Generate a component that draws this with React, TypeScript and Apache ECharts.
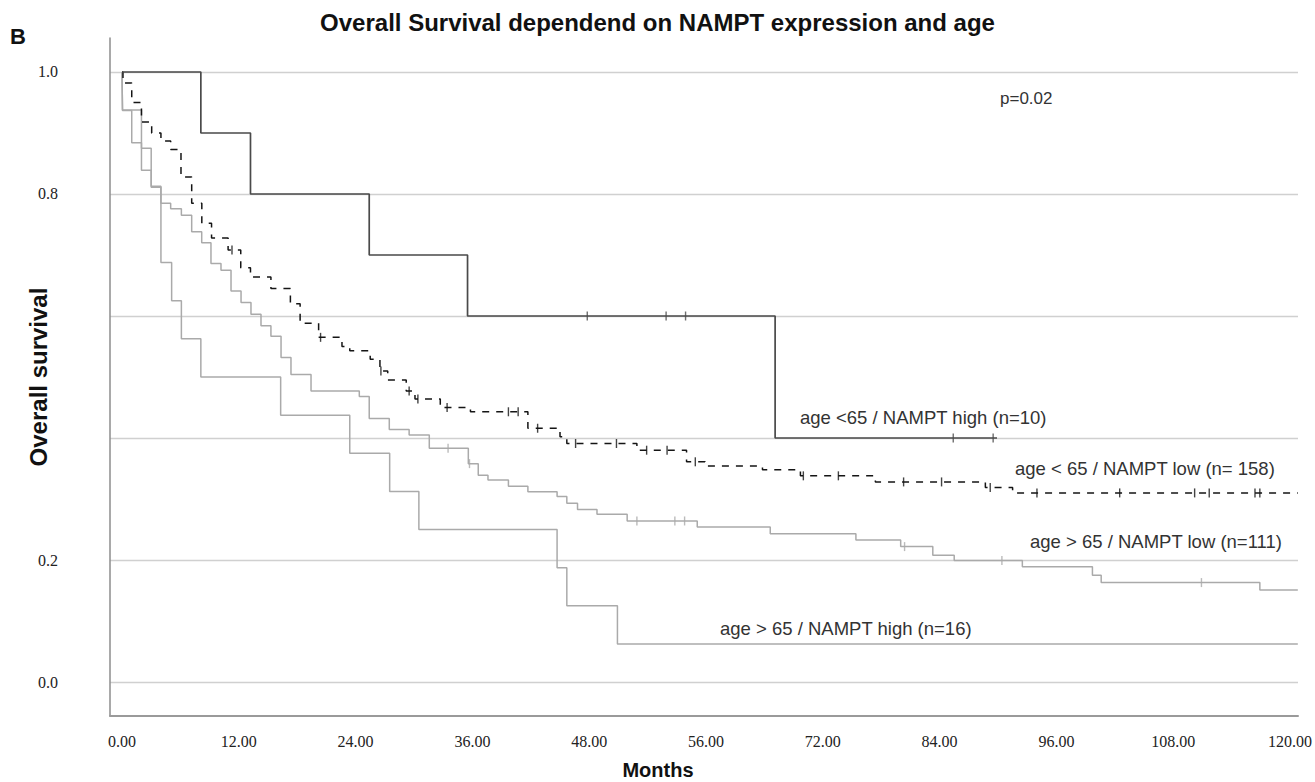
import React, { useEffect, useRef } from "react";
import * as echarts from "echarts";

// ---- axis ticks ----
const xTickValues = [0, 12, 24, 36, 48, 60, 72, 84, 96, 108, 120];
const xTickLabels = ["0.00", "12.00", "24.00", "36.00", "48.00", "56.00", "72.00", "84.00", "96.00", "108.00", "120.00"];
const yTickValues = [0, 0.2, 0.4, 0.6, 0.8, 1.0];
// 0.4 and 0.6 sit behind the y-axis title in the original figure
const yTickLabels = ["0.0", "0.2", "", "", "0.8", "1.0"];

// ---- age <65 / NAMPT high (n=10) ----
const youngHighTimes = [0, 8.1, 13.2, 25.4, 35.5, 67.1, 89.9];
const youngHighSurv = [1, 0.9, 0.8, 0.7, 0.6, 0.4, 0.4];
const youngHighCensored = [47.8, 55.9, 57.9, 85.4, 89.5];

// ---- age < 65 / NAMPT low (n=158) ----
const youngLowTimes = [0, 0.1, 1.0, 2.0, 3.05, 4.0, 5.0, 6.06, 7.16, 8.2, 9.2, 10.9, 12.2, 13.2, 15.3, 17.3, 18.3, 20.2, 22.6, 23.4, 25.5, 26.5, 27.3, 29.2, 30.1, 32.7, 35.8, 41.7, 45.0, 45.7, 52.9, 58.0, 59.9, 65.8, 69.7, 77.4, 88.7, 91.5, 120.8];
const youngLowSurv = [1, 0.982, 0.95, 0.918, 0.9, 0.887, 0.873, 0.828, 0.785, 0.752, 0.728, 0.708, 0.679, 0.664, 0.645, 0.62, 0.588, 0.565, 0.55, 0.543, 0.529, 0.51, 0.495, 0.477, 0.464, 0.45, 0.443, 0.416, 0.402, 0.391, 0.38, 0.361, 0.354, 0.348, 0.338, 0.328, 0.319, 0.31, 0.31];
const youngLowCensored = [11.3, 20.4, 26.6, 29.5, 30.4, 33.4, 39.7, 40.7, 42.7, 46.6, 50.8, 53.9, 56.0, 58.9, 70.0, 73.6, 80.3, 84.2, 89.2, 94.0, 102.5, 110.2, 111.7, 116.4, 116.9];

// ---- age > 65 / NAMPT low (n=111) ----
const oldLowTimes = [0, 0.05, 1, 2, 3, 4, 5, 6.1, 7.16, 8.19, 9.14, 10.17, 11.2, 12.23, 13.25, 14.28, 15.3, 16.34, 17.36, 19.42, 24.38, 25.4, 27.46, 29.5, 31.57, 35.58, 36.6, 37.6, 39.7, 41.7, 44.7, 45.7, 46.8, 48.8, 51.9, 59.1, 66.6, 75.4, 80.0, 83.3, 85.5, 92.5, 99.7, 100.6, 116.9, 120.8];
const oldLowSurv = [1, 0.937, 0.884, 0.839, 0.811, 0.785, 0.776, 0.765, 0.738, 0.72, 0.686, 0.675, 0.641, 0.622, 0.603, 0.584, 0.567, 0.532, 0.504, 0.477, 0.468, 0.432, 0.414, 0.405, 0.383, 0.358, 0.339, 0.331, 0.321, 0.312, 0.304, 0.293, 0.283, 0.275, 0.264, 0.254, 0.243, 0.233, 0.222, 0.208, 0.199, 0.189, 0.175, 0.163, 0.151, 0.151];
const oldLowCensored = [33.5, 35.7, 52.9, 56.8, 57.8, 80.4, 90.4, 110.9];

// ---- age > 65 / NAMPT high (n=16) ----
const oldHighTimes = [0, 0.05, 2.0, 3.0, 4.0, 5.1, 6.1, 8.1, 16.3, 23.4, 27.5, 30.5, 44.7, 45.7, 50.9, 120.8];
const oldHighSurv = [1, 0.9375, 0.875, 0.8125, 0.6875, 0.625, 0.5625, 0.5, 0.4375, 0.375, 0.3125, 0.25, 0.1875, 0.125, 0.0625, 0.0625];

const groupLabels = [
  "age <65 / NAMPT high (n=10)",
  "age < 65 / NAMPT low (n= 158)",
  "age > 65 / NAMPT low (n=111)",
  "age > 65 / NAMPT high (n=16)",
];
const pValueText = "p=0.02";

function survAt(times: number[], surv: number[], t: number): number {
  let s = surv[0];
  for (let i = 0; i < times.length; i++) {
    if (times[i] <= t) s = surv[i];
  }
  return s;
}

function stepSeries(times: number[], surv: number[], color: string, width: number, type: any, z: number) {
  return {
    type: "line",
    step: "end",
    symbol: "none",
    silent: true,
    z,
    data: times.map((t, i) => [t, surv[i]]),
    lineStyle: { color, width, type },
  };
}

function censorSeries(times: number[], surv: number[], cens: number[], color: string, z: number) {
  return {
    type: "scatter",
    symbol: "rect",
    symbolSize: [1.4, 9],
    silent: true,
    z,
    data: cens.map((t) => [t, survAt(times, surv, t)]),
    itemStyle: { color },
  };
}

const SANS = '"Liberation Sans", Arial, sans-serif';
const SERIF = '"Liberation Serif", "Times New Roman", serif';

export default function App() {
  const ref = useRef<HTMLDivElement>(null);
  useEffect(() => {
    if (!ref.current) return;
    const chart = echarts.init(ref.current, null, { renderer: "svg" });
    const labelText = (text: string, x: number, y: number, size: number) => ({
      type: "text",
      x,
      y,
      silent: true,
      style: { text, fill: "#333", font: `${size}px ${SANS}`, align: "left", verticalAlign: "middle" },
    });
    const option: any = {
      animation: false,
      backgroundColor: "#ffffff",
      title: {
        text: "Overall Survival dependend on NAMPT expression and age",
        left: "center",
        top: 5,
        textStyle: { fontFamily: SANS, fontSize: 24, fontWeight: "bold", color: "#111" },
      },
      grid: { left: 110, right: 17, top: 38, bottom: 66, containLabel: false, outerBoundsMode: "none" },
      xAxis: {
        type: "value",
        min: -1.233,
        max: 120.82,
        name: "Months",
        nameLocation: "middle",
        nameGap: 44,
        nameMoveOverlap: false,
        nameTextStyle: { fontFamily: SANS, fontSize: 20, fontWeight: "bold", color: "#111", padding: [0, 92, 0, 0] },
        axisLine: { show: true, onZero: false, lineStyle: { color: "#9a9a9a", width: 2 } },
        axisTick: { show: false, customValues: xTickValues },
        splitLine: { show: false },
        axisLabel: {
          customValues: xTickValues,
          margin: 17,
          fontFamily: SERIF,
          fontSize: 16,
          color: "#222",
          formatter: (v: number) => {
            const i = xTickValues.indexOf(Math.round(v));
            return i >= 0 ? xTickLabels[i] : "";
          },
        },
      },
      yAxis: {
        type: "value",
        min: -0.0557,
        max: 1.0557,
        name: "Overall survival",
        nameLocation: "middle",
        nameGap: 60,
        nameMoveOverlap: false,
        nameTextStyle: { fontFamily: SANS, fontSize: 24, fontWeight: "bold", color: "#111" },
        axisLine: { show: true, onZero: false, lineStyle: { color: "#8c8c8c", width: 1.5 } },
        axisTick: { show: false, customValues: yTickValues },
        splitLine: { show: true, lineStyle: { color: "#d0d0d0", width: 1.3 } },
        axisLabel: {
          customValues: yTickValues,
          margin: 52,
          fontFamily: SERIF,
          fontSize: 16,
          color: "#222",
          formatter: (v: number) => {
            const i = yTickValues.findIndex((y) => Math.abs(y - v) < 1e-6);
            return i >= 0 ? yTickLabels[i] : "";
          },
        },
      },
      graphic: [
        { type: "text", x: 10, y: 36, silent: true, style: { text: "B", fill: "#111", font: `bold 22px ${SANS}`, align: "left", verticalAlign: "middle" } },
        labelText(pValueText, 1000, 98, 17),
        labelText(groupLabels[0], 800, 417, 18.5),
        labelText(groupLabels[1], 1015, 468, 18.5),
        labelText(groupLabels[2], 1030, 541, 18.5),
        labelText(groupLabels[3], 720, 628, 18.5),
      ],
      series: [
        stepSeries(oldHighTimes, oldHighSurv, "#aaaaaa", 1.5, "solid", 2),
        stepSeries(oldLowTimes, oldLowSurv, "#aaaaaa", 1.5, "solid", 2),
        censorSeries(oldLowTimes, oldLowSurv, oldLowCensored, "#aaaaaa", 3),
        stepSeries(youngLowTimes, youngLowSurv, "#151515", 1.5, [7, 7], 4),
        censorSeries(youngLowTimes, youngLowSurv, youngLowCensored, "#151515", 5),
        stepSeries(youngHighTimes, youngHighSurv, "#4a4a4a", 1.7, "solid", 6),
        censorSeries(youngHighTimes, youngHighSurv, youngHighCensored, "#4a4a4a", 7),
      ],
    };
    chart.setOption(option);
    return () => chart.dispose();
  }, []);
  return (
    <div
      ref={ref}
      style={{ position: "fixed", left: 0, top: 0, width: 1315, height: 782, background: "#fff" }}
    />
  );
}
